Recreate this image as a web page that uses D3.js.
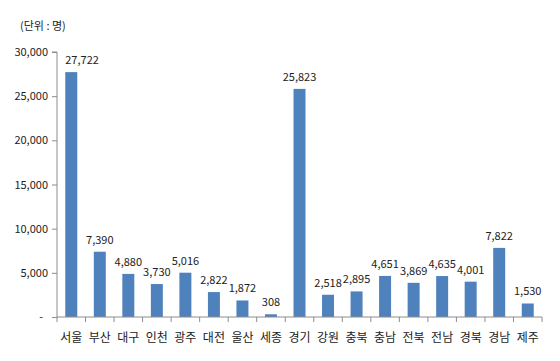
<!DOCTYPE html>
<html><head><meta charset="utf-8">
<script src="https://cdn.jsdelivr.net/npm/d3@7"></script>
<style>
body{margin:0;background:#fff;}
text{font-family:"Noto Sans CJK KR","Noto Sans",sans-serif;fill:#222;}
</style></head>
<body><svg id="c" width="560" height="361"></svg>
<script>
const categories = ["서울","부산","대구","인천","광주","대전","울산","세종","경기","강원","충북","충남","전북","전남","경북","경남","제주"];
const values = [27722,7390,4880,3730,5016,2822,1872,308,25823,2518,2895,4651,3869,4635,4001,7822,1530];
const yTicks = [0,5000,10000,15000,20000,25000,30000];
const unitLabel = "(단위 : 명)";

const svg = d3.select("#c");
const x0 = 57, x1 = 542, yTop = 52, yBot = 317;
const x = d3.scaleBand().domain(categories).range([x0, x1]).paddingInner(0.58).paddingOuter(0.29);
const y = d3.scaleLinear().domain([0,30000]).range([yBot, yTop]);
const axisColor = "#8c8c8c";

// bars
svg.selectAll("rect.bar").data(values).enter().append("rect")
  .attr("x",(d,i)=>x(categories[i])).attr("width",x.bandwidth())
  .attr("y",d=>y(d)).attr("height",d=>yBot-y(d)).attr("fill","#4f81bd");

// value labels
svg.selectAll("text.val").data(values).enter().append("text")
  .attr("x",(d,i)=>i===0 ? x(categories[i]) : x(categories[i])+x.bandwidth()/2)
  .attr("y",d=>y(d)-8)
  .attr("text-anchor",(d,i)=>i===0?"start":"middle").attr("font-size",11).text(d=>d3.format(",")(d));

// y axis
const yAxis = d3.axisLeft(y).tickValues(yTicks).tickSize(5).tickFormat(d=>d===0?"-":d3.format(",")(d));
const gy = svg.append("g").attr("transform",`translate(${x0},0)`).call(yAxis);
gy.select(".domain").attr("stroke",axisColor).attr("d",`M-5,${yTop}H0V${yBot}`);
gy.selectAll(".tick line").attr("stroke",axisColor);
gy.selectAll(".tick text").attr("font-size",11).attr("x",-9).attr("fill","#222").style("font-family","'Noto Sans CJK KR',sans-serif");
gy.selectAll(".tick").filter(d=>d===0).select("text").attr("x",-14);

// x axis
const gx = svg.append("g").attr("transform",`translate(0,${yBot})`);
gx.append("line").attr("x1",x0).attr("x2",x1).attr("stroke",axisColor);
const bounds = d3.range(categories.length+1).map(i=>x0+i*(x1-x0)/categories.length);
gx.selectAll("line.t").data(bounds).enter().append("line")
  .attr("x1",d=>d).attr("x2",d=>d).attr("y1",0).attr("y2",5).attr("stroke",axisColor);
gx.selectAll("text.cat").data(categories).enter().append("text")
  .attr("x",d=>x(d)+x.bandwidth()/2).attr("y",25).attr("text-anchor","middle")
  .attr("font-size",12).text(d=>d);

svg.append("text").attr("x",20).attr("y",30).attr("font-size",11).text(unitLabel);
</script></body></html>
